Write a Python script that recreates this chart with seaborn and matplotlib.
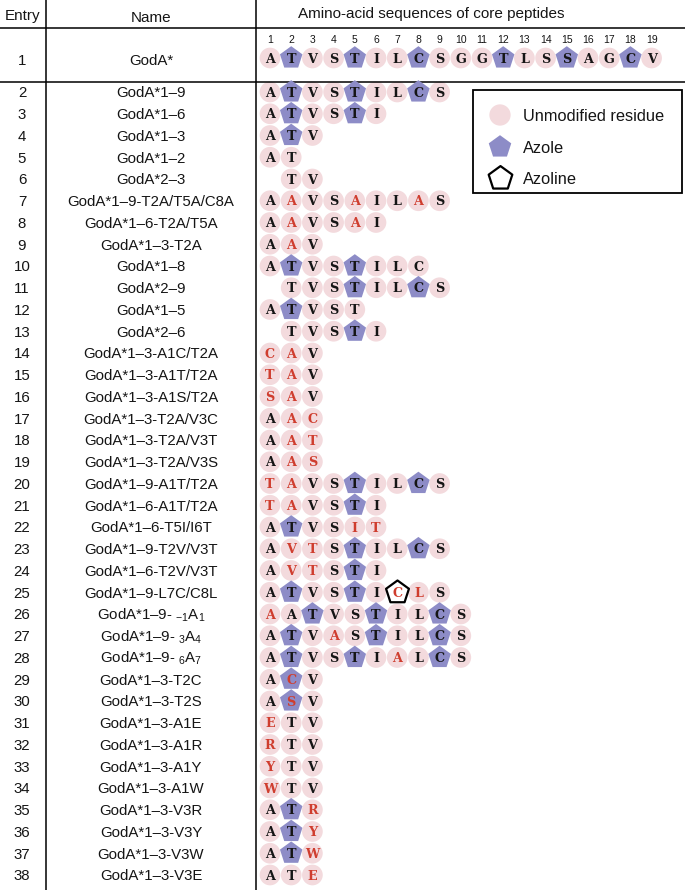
import numpy as np
import pandas as pd
import matplotlib
matplotlib.use("Agg")
import matplotlib.pyplot as plt
import seaborn as sns
from matplotlib.patches import Rectangle

# ---------------- data ----------------
entries = list(range(1, 39))
names = [
    "GodA*", "GodA*1–9", "GodA*1–6", "GodA*1–3", "GodA*1–2", "GodA*2–3",
    "GodA*1–9-T2A/T5A/C8A", "GodA*1–6-T2A/T5A", "GodA*1–3-T2A", "GodA*1–8",
    "GodA*2–9", "GodA*1–5", "GodA*2–6", "GodA*1–3-A1C/T2A", "GodA*1–3-A1T/T2A",
    "GodA*1–3-A1S/T2A", "GodA*1–3-T2A/V3C", "GodA*1–3-T2A/V3T", "GodA*1–3-T2A/V3S",
    "GodA*1–9-A1T/T2A", "GodA*1–6-A1T/T2A", "GodA*1–6-T5I/I6T", "GodA*1–9-T2V/V3T",
    "GodA*1–6-T2V/V3T", "GodA*1–9-L7C/C8L",
    r"GodA*1–9- ${}_{-1}\mathrm{A}_{1}$", r"GodA*1–9- ${}_{3}\mathrm{A}_{4}$",
    r"GodA*1–9- ${}_{6}\mathrm{A}_{7}$",
    "GodA*1–3-T2C", "GodA*1–3-T2S", "GodA*1–3-A1E", "GodA*1–3-A1R", "GodA*1–3-A1Y",
    "GodA*1–3-A1W", "GodA*1–3-V3R", "GodA*1–3-V3Y", "GodA*1–3-V3W", "GodA*1–3-V3E",
]
sequences = [
    "ATVSTILCSGGTLSSAGCV", "ATVSTILCS", "ATVSTI", "ATV", "AT", "TV",
    "AAVSAILAS", "AAVSAI", "AAV", "ATVSTILC", "TVSTILCS", "ATVST", "TVSTI",
    "CAV", "TAV", "SAV", "AAC", "AAT", "AAS",
    "TAVSTILCS", "TAVSTI", "ATVSIT", "AVTSTILCS", "AVTSTI", "ATVSTICLS",
    "AATVSTILCS", "ATVASTILCS", "ATVSTIALCS",
    "ACV", "ASV", "ETV", "RTV", "YTV", "WTV", "ATR", "ATY", "ATW", "ATE",
]
starts = [1, 1, 1, 1, 1, 2, 1, 1, 1, 1, 2, 1, 2] + [1] * 25
azole_pos = [
    [2, 5, 8, 12, 15, 18], [2, 5, 8], [2, 5], [2], [], [],
    [], [], [], [2, 5], [5, 8], [2], [5],
    [], [], [], [], [], [],
    [5, 8], [5], [2], [5, 8], [5], [2, 5],
    [3, 6, 9], [2, 6, 9], [2, 5, 9],
    [2], [2], [], [], [], [], [2], [2], [2], [],
]
azoline_pos = [[] for _ in range(38)]
azoline_pos[24] = [7]
mutated_pos = [
    [], [], [], [], [], [],
    [2, 5, 8], [2, 5], [2], [], [], [], [],
    [1, 2], [1, 2], [1, 2], [2, 3], [2, 3], [2, 3],
    [1, 2], [1, 2], [5, 6], [2, 3], [2, 3], [7, 8],
    [1], [4], [7],
    [2], [2], [1], [1], [1], [1], [3], [3], [3], [3],
]
position_labels = [str(i) for i in range(1, 20)]
legend_labels = ["Unmodified residue", "Azole", "Azoline"]

# ---------------- layout constants (pixels of the 685x890 canvas) ----------------
W, H = 685, 890
X_POS1, X_STEP = 270.0, 21.2
Y_ROW2, Y_STEP = 92.0, 21.75
Y_ROW1 = 58.0

def px_x(p):
    return 1 + (p - X_POS1) / X_STEP

def px_y(q):
    return 2 + (q - Y_ROW2) / Y_STEP

def base(y, fs, cap):
    # baseline position so that capital letters are visually centred on y
    return y + (cap * fs * 100 / 72 / 2) / Y_STEP

PINK = "#f3dadd"
BLUE = "#8d8cc7"
RED = "#cf3d2e"
INK = "#151515"

recs = []
for e, seq, st, az, azl, mut in zip(entries, sequences, starts, azole_pos, azoline_pos, mutated_pos):
    for i, ch in enumerate(seq):
        p = st + i
        state = "azoline" if p in azl else ("azole" if p in az else "unmodified")
        recs.append(dict(entry=e, pos=p, letter=ch, state=state, mutated=p in mut))
df = pd.DataFrame(recs)
df["row"] = np.where(df["entry"] == 1, px_y(Y_ROW1), df["entry"].astype(float))

# ---------------- figure ----------------
sns.set_theme(style="white")
plt.rcParams["font.family"] = ["Liberation Sans", "DejaVu Sans"]
plt.rcParams["mathtext.fontset"] = "custom"
plt.rcParams["mathtext.rm"] = "Liberation Sans"
plt.rcParams["mathtext.it"] = "Liberation Sans:italic"

fig = plt.figure(figsize=(W / 100, H / 100), dpi=100, facecolor="white")
ax = fig.add_axes([0, 0, 1, 1])
ax.set_facecolor("white")

sns.scatterplot(data=df[df.state == "unmodified"], x="pos", y="row", marker="o",
                s=222, color=PINK, edgecolor="none", linewidth=0, ax=ax, legend=False, zorder=2)
sns.scatterplot(data=df[df.state == "azole"], x="pos", y="row", marker="p",
                s=290, color=BLUE, edgecolor="none", linewidth=0, ax=ax, legend=False, zorder=3)
sns.scatterplot(data=df[df.state == "azoline"], x="pos", y="row", marker="p",
                s=300, color="white", edgecolor="black", linewidth=1.6, ax=ax, legend=False, zorder=3)

LFS = 9.2
for _, r in df.iterrows():
    ax.text(r.pos, base(r.row, LFS, 0.729), r.letter, ha="center", va="baseline",
            family="DejaVu Serif", fontweight="bold", fontsize=LFS,
            color=RED if r.mutated else INK, zorder=5)

# column numbers
for i, lab in enumerate(position_labels):
    ax.text(i + 1, base(px_y(39), 7.5, 0.716), lab, ha="center", va="baseline",
            fontsize=7.5, color=INK)

# entries & names
NFS = 10.8
tr = ax.get_yaxis_transform()
for e, nm in zip(entries, names):
    y = px_y(Y_ROW1 + 2) if e == 1 else e
    ax.text(22 / W, base(y, NFS, 0.716), str(e), transform=tr, ha="center", va="baseline",
            fontsize=NFS, color=INK)
    ax.text(151 / W, base(y, NFS, 0.716), nm, transform=tr, ha="center", va="baseline",
            fontsize=NFS, color=INK)

# headers
ax.text(23 / W, base(px_y(15), 11, 0.716), "Entry", transform=tr, ha="center", va="baseline",
        fontsize=11, color=INK)
ax.text(151 / W, base(px_y(17), 11, 0.716), "Name", transform=tr, ha="center", va="baseline",
        fontsize=11, color=INK)
ax.text(431 / W, base(px_y(13), 11, 0.716), "Amino-acid sequences of core peptides",
        transform=tr, ha="center", va="baseline", fontsize=11, color=INK)

# rules
ax.axhline(px_y(28), color="black", lw=1.1)
ax.axhline(px_y(82), color="black", lw=1.1)
ax.axvline(px_x(46), color="black", lw=1.1)
ax.axvline(px_x(256), color="black", lw=1.1)

# legend box (drawn by hand in figure coordinates)
fig.add_artist(Rectangle((473 / W, 1 - 193 / H), 209 / W, 103 / H, transform=fig.transFigure,
                         fill=False, edgecolor="black", lw=1.3))
leg_y = [115, 147, 178]
ax.scatter([500 / W], [1 - leg_y[0] / H], transform=fig.transFigure, marker="o", s=235,
           color=PINK, edgecolor="none")
ax.scatter([500 / W], [1 - leg_y[1] / H], transform=fig.transFigure, marker="p", s=290,
           color=BLUE, edgecolor="none")
ax.scatter([500 / W], [1 - leg_y[2] / H], transform=fig.transFigure, marker="p", s=320,
           color="white", edgecolor="black", linewidth=1.6)
for yy, lab in zip(leg_y, legend_labels):
    fig.text(523 / W, 1 - (yy + 0.716 * 11.8 * 100 / 72 / 2) / H, lab, ha="left",
             va="baseline", fontsize=11.8, color=INK)

ax.set_xlim(px_x(0), px_x(W))
ax.set_ylim(px_y(H), px_y(0))
ax.set_axis_off()

fig.savefig("out.png", dpi=100, facecolor="white")
